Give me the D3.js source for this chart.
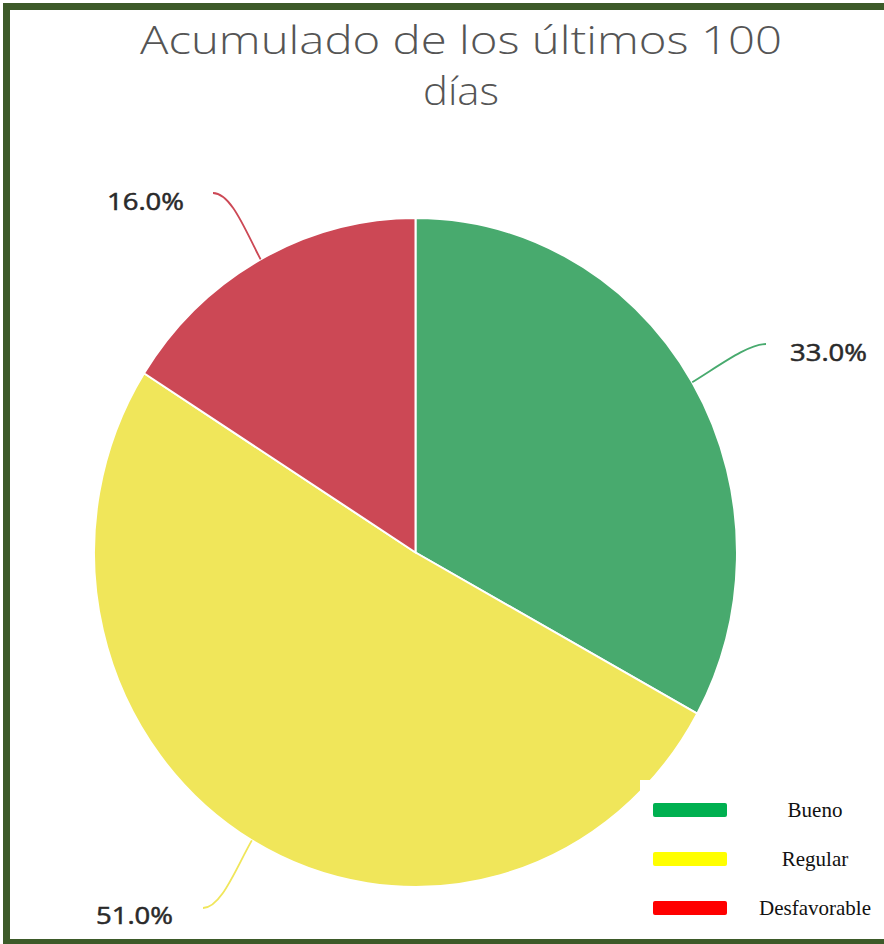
<!DOCTYPE html>
<html>
<head>
<meta charset="utf-8">
<script src="https://cdn.jsdelivr.net/npm/d3@7"></script>
<style>
  body { margin: 0; background: #fff; }
  svg { display: block; }
</style>
</head>
<body>
<div id="chart"></div>
<script>
const categories = ["Bueno", "Regular", "Desfavorable"];
const values = [33.0, 51.0, 16.0];
const sliceColors = ["#48aa6e", "#f0e65a", "#cc4855"];
const legendColors = ["#00b050", "#ffff00", "#ff0000"];
const titleLines = ["Acumulado de los últimos 100", "días"];

const W = 884, H = 944;
const svg = d3.select("#chart").append("svg")
    .attr("width", W)
    .attr("height", H);

svg.append("rect")
    .attr("width", W).attr("height", H)
    .attr("fill", "#fff");

// title, one text wrapped on two lines
const titleWidths = [642, 76];
const title = svg.append("text")
    .attr("text-anchor", "middle")
    .attr("fill", "#555")
    .style("font-family", "Open Sans")
    .style("font-weight", 300)
    .style("font-size", "38px");
titleLines.forEach((t, i) => {
    title.append("tspan")
        .attr("x", 461).attr("y", 54 + i * 51)
        .attr("textLength", titleWidths[i])
        .attr("lengthAdjust", "spacingAndGlyphs")
        .text(t);
});

// pie (slightly taller than wide, as in the picture)
const cx = 415.5, cy = 552.5, rx = 321.5, ry = 334.5;
const data = categories.map((c, i) => ({ name: c, value: values[i], color: sliceColors[i] }));
const pie = d3.pie().sort(null).value(d => d.value);
const arcs = pie(data);
const arc = d3.arc().innerRadius(0).outerRadius(rx);

const g = svg.append("g")
    .attr("transform", `translate(${cx},${cy}) scale(1,${ry / rx})`);

g.selectAll("path.slice")
    .data(arcs)
    .enter().append("path")
    .attr("class", "slice")
    .attr("d", arc)
    .attr("fill", d => d.data.color)
    .attr("stroke", "#fff")
    .attr("stroke-width", 2)
    .attr("vector-effect", "non-scaling-stroke");

// labels with curved connectors
function edgePoint(a, k) {
    return [cx + rx * k * Math.sin(a), cy - ry * k * Math.cos(a)];
}
const labelFmt = d3.format(".1f");
const labelInfo = [
    { end: [766, 344], side: 1, tx: 790, ty: 361 },
    { end: [203, 908], side: -1, tx: 173, ty: 924 },
    { end: [213, 193], side: -1, tx: 184, ty: 210 }
];

arcs.forEach((d, i) => {
    const a = (d.startAngle + d.endAngle) / 2;
    const p0 = edgePoint(a, 1);
    const c1 = edgePoint(a, 1.1);
    const info = labelInfo[i];
    const c2 = [info.end[0] - info.side * 18, info.end[1]];
    const path = d3.path();
    path.moveTo(p0[0], p0[1]);
    path.bezierCurveTo(c1[0], c1[1], c2[0], c2[1], info.end[0], info.end[1]);
    svg.append("path")
        .attr("d", path.toString())
        .attr("fill", "none")
        .attr("stroke", d.data.color)
        .attr("stroke-width", 1.8);
    svg.append("text")
        .attr("x", info.tx).attr("y", info.ty)
        .attr("text-anchor", info.side > 0 ? "start" : "end")
        .attr("fill", "#2a2a2a")
        .attr("stroke", "#2a2a2a")
        .attr("stroke-width", 0.5)
        .style("font-family", "Open Sans")
        .style("font-size", "23px")
        .attr("textLength", 77)
        .attr("lengthAdjust", "spacingAndGlyphs")
        .text(labelFmt(d.data.value) + "%");
});

// legend
const legend = svg.append("g");
legend.append("rect")
    .attr("x", 640).attr("y", 780)
    .attr("width", W - 640).attr("height", 160)
    .attr("fill", "#fff");
const rowY = d3.scalePoint().domain(categories).range([810, 908]);
const items = legend.selectAll("g.item")
    .data(categories)
    .enter().append("g")
    .attr("class", "item");
items.append("rect")
    .attr("x", 653)
    .attr("y", d => rowY(d) - 7)
    .attr("width", 74).attr("height", 14)
    .attr("rx", 2)
    .attr("fill", (d, i) => legendColors[i]);
items.append("text")
    .attr("x", 815)
    .attr("y", d => rowY(d) + 7)
    .attr("text-anchor", "middle")
    .attr("fill", "#111")
    .style("font-family", "Liberation Serif")
    .style("font-size", "21px")
    .text(d => d);

// frame
svg.append("rect")
    .attr("x", 6.5).attr("y", 6.5)
    .attr("width", W + 20).attr("height", 936)
    .attr("fill", "none")
    .attr("stroke", "#3d5a29")
    .attr("stroke-width", 7);
</script>
</body>
</html>
